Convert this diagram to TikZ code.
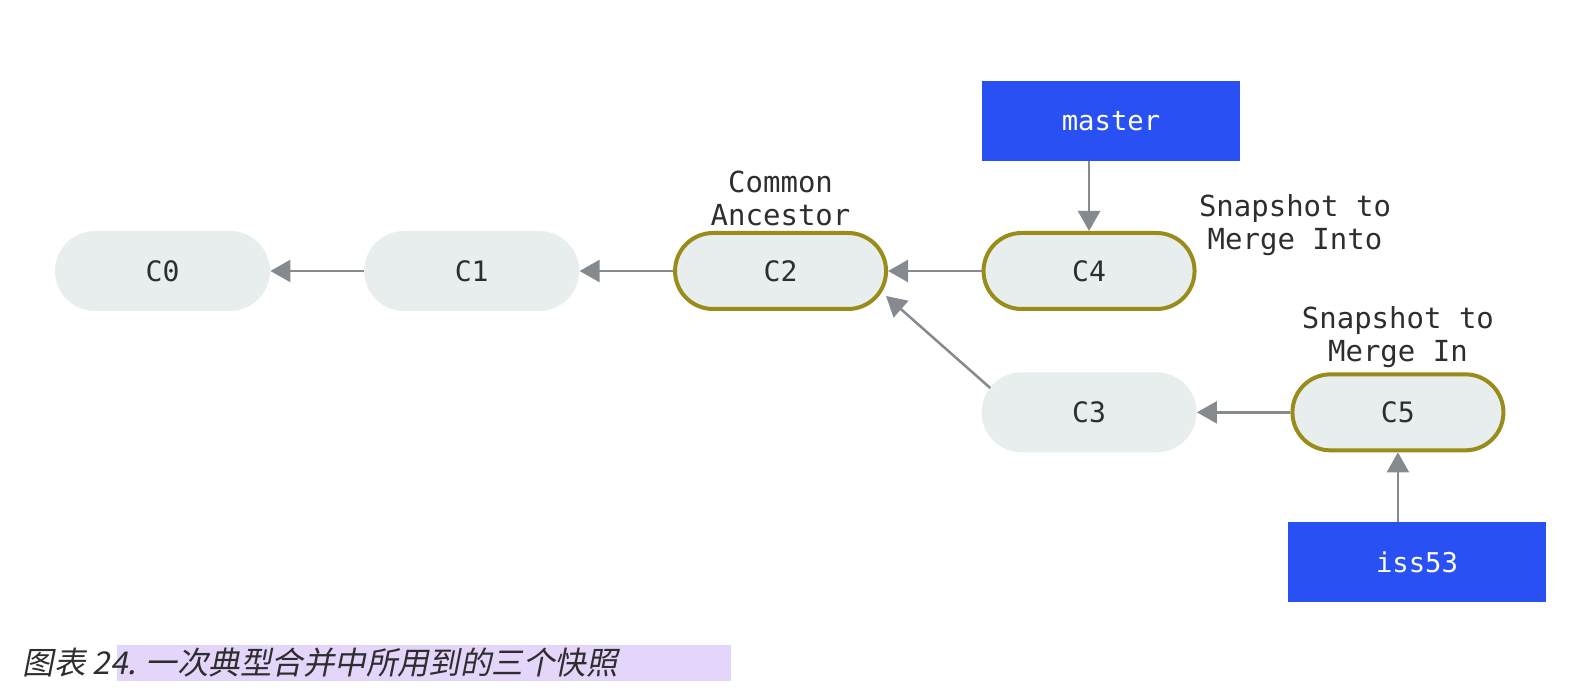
\documentclass[tikz,border=0pt]{standalone}
\usepackage{fontspec}
\setmonofont{DejaVu Sans Mono}
\newfontfamily\cjkcap[FakeSlant=0.2]{Noto Sans CJK SC}
\definecolor{gitfill}{HTML}{E7EEED}
\definecolor{gitolive}{HTML}{9A8C1A}
\definecolor{gitblue}{HTML}{2850F2}
\definecolor{gitgray}{HTML}{858A8F}
\definecolor{gittext}{HTML}{2E2E2E}
\definecolor{caphl}{HTML}{E4D6FA}
\usetikzlibrary{
  arrows.meta,
  positioning,
  calc,
}

\begin{document}
\begin{tikzpicture}[
  node distance=1.87cm and 1.87cm,
  commit/.style={
    fill=gitfill,
    rounded corners=0.8cm,
    minimum width=4.3cm,
    minimum height=1.6cm,
    inner sep=0pt,
    font=\ttfamily\fontsize{16}{18}\selectfont,
    text=gittext,
  },
  snap/.style={
    commit,
    draw=gitolive,
    line width=0.08cm,
    rounded corners=0.76cm,
    minimum width=4.22cm,
    minimum height=1.52cm,
  },
  branch/.style={
    fill=gitblue,
    minimum width=5.16cm,
    minimum height=1.6cm,
    inner sep=0pt,
    font=\ttfamily\fontsize{15.5}{18}\selectfont,
    text=white,
  },
  label/.style={
    font=\ttfamily\fontsize{16.5}{18.8}\selectfont,
    text=gittext,
    align=center,
    inner sep=0pt,
  },
  arr/.style={
    -{Triangle[length=0.4cm, width=0.44cm]},
    line width=0.05cm,
    draw=gitgray,
  },
]

\useasboundingbox (0,0) rectangle (31.44,-13.84);

% --- commits ---
\node[commit] (c0) at (3.25,-5.42) {C0};
\node[commit, right=of c0] (c1) {C1};
\node[snap, right=of c1] (c2) {C2};
\node[snap, right=of c2] (c4) {C4};
\node[commit, below=1.22cm of c4] (c3) {C3};
\node[snap, right=of c3] (c5) {C5};

% --- branches ---
\node[branch] (master) at (22.22,-2.42) {master};
\node[branch] (iss53) at (28.34,-11.24) {iss53};

% --- labels ---
\node[label, anchor=south] (ancestor) at ([yshift=0.10cm]c2.north) {Common\\Ancestor};
\node[label] (into) at (25.9,-4.50) {Snapshot to\\Merge Into};
\node[label, anchor=south] (mergein) at ([yshift=0.08cm]c5.north) {Snapshot to\\Merge In};

% --- history ---
\draw[arr] (c1) -- (c0);
\draw[arr] (c2) -- (c1);
\draw[arr] (c4) -- (c2);
\draw[arr] (c5) -- (c3);
\draw[arr] ([xshift=0.18cm,yshift=-0.32cm]c3.north west) -- ([xshift=-0.04cm,yshift=0.30cm]c2.south east);
\draw[arr] (c4.north |- master.south) -- (c4.north);
\draw[arr] (c5.south |- iss53.north) -- (c5.south);

% --- caption ---
\fill[caphl] (2.34,-12.90) rectangle (14.62,-13.62);
\node[anchor=west, inner sep=0pt, text=gittext, font=\cjkcap\fontsize{17.9}{20}\selectfont] (caption)
  at (0.45,-13.26) {图表 24. 一次典型合并中所用到的三个快照};

\end{tikzpicture}
\end{document}
